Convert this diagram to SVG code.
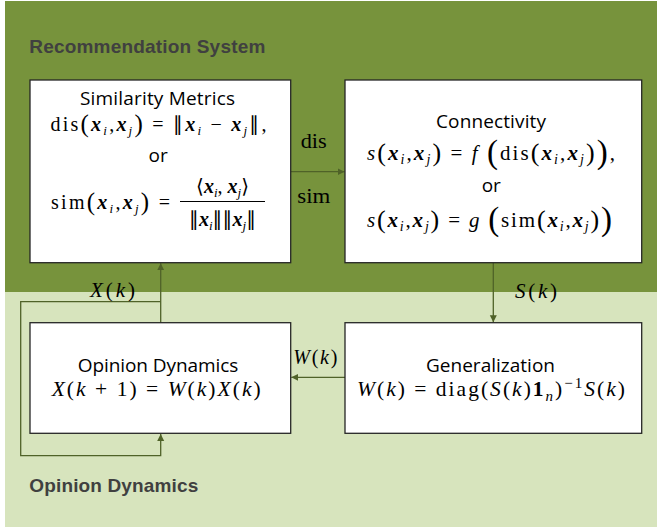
<svg xmlns="http://www.w3.org/2000/svg" width="657" height="527" viewBox="0 0 657 527">
<style>
.bg1{fill:#77933C}
.bg2{fill:#D7E4BD}
.box{fill:#fff;stroke:#262626;stroke-width:1.3}
.lbl{font-family:"Liberation Sans",Arial,sans-serif;font-weight:bold;font-size:19px;fill:#404040}
.t{font-family:"Open Sans","Liberation Sans",sans-serif;font-size:19px;fill:#000}
.m{font-family:"Liberation Serif","DejaVu Serif",serif;fill:#000}
.bv{font-weight:bold;font-style:italic}
.it{font-style:italic}
.nb{font-family:"DejaVu Sans",sans-serif;font-style:normal;font-weight:normal}
.con{fill:none;stroke:#4F6228;stroke-width:1.3}
</style>
<defs>
<marker id="ah" markerUnits="userSpaceOnUse" markerWidth="8" markerHeight="8" refX="7" refY="3.5" orient="auto">
<path d="M0,0 L7,3.5 L0,7 z" fill="#4F6228"/>
</marker>
</defs>
<rect class="bg1" x="5" y="1" width="652" height="291"/>
<rect class="bg2" x="5" y="292" width="652" height="235"/>
<text class="lbl" x="29.3" y="52.7" textLength="236">Recommendation System</text>
<text class="lbl" x="29.3" y="492" textLength="169">Opinion Dynamics</text>

<g id="connectors">
<path class="con" d="M290.7,171.7 H344.5" marker-end="url(#ah)"/>
<path class="con" d="M493.3,262.7 V322.2" marker-end="url(#ah)"/>
<path class="con" d="M345,377.3 H291.3" marker-end="url(#ah)"/>
<path class="con" d="M160.7,322.7 V263.3" marker-end="url(#ah)"/>
<path class="con" d="M160.7,301.7 H20.7 V455.7 H160.7 V434" marker-end="url(#ah)"/>
<text class="m" x="300.7" y="148.3" font-size="20" textLength="26" lengthAdjust="spacingAndGlyphs">dis</text>
<text class="m" x="297.3" y="203.3" font-size="20" textLength="33" lengthAdjust="spacingAndGlyphs">sim</text>
<text class="m" x="515" y="298" font-size="21" textLength="42"><tspan class="it">S</tspan>(<tspan class="it">k</tspan>)</text>
<text class="m" x="293.3" y="364" font-size="20" textLength="44"><tspan class="it">W</tspan>(<tspan class="it">k</tspan>)</text>
<text class="m" x="90" y="296.5" font-size="21" textLength="45"><tspan class="it">X</tspan>(<tspan class="it">k</tspan>)</text>
</g>

<g id="similarity-metrics">
<rect class="box" x="30" y="80" width="260.7" height="182.7"/>
<text class="t" x="80" y="105" textLength="155">Similarity Metrics</text>
<text class="m" x="50.5" y="131" font-size="20" textLength="216">dis<tspan font-size="25" baseline-shift="-1.3">(</tspan><tspan class="bv">x</tspan><tspan class="it" font-size="13" baseline-shift="-4">i</tspan>,<tspan class="bv">x</tspan><tspan class="it" font-size="13" baseline-shift="-4">j</tspan><tspan font-size="25" baseline-shift="-1.3">)</tspan> = <tspan class="nb">∥</tspan><tspan class="bv">x</tspan><tspan class="it" font-size="13" baseline-shift="-4">i</tspan> − <tspan class="bv">x</tspan><tspan class="it" font-size="13" baseline-shift="-4">j</tspan><tspan class="nb">∥</tspan>,</text>
<text class="t" x="148.5" y="162.3">or</text>
<text class="m" x="51" y="209" font-size="20" textLength="119">sim<tspan font-size="25" baseline-shift="-1.3">(</tspan><tspan class="bv">x</tspan><tspan class="it" font-size="13" baseline-shift="-4">i</tspan>,<tspan class="bv">x</tspan><tspan class="it" font-size="13" baseline-shift="-4">j</tspan><tspan font-size="25" baseline-shift="-1.3">)</tspan> =</text>
<text class="m" x="222.5" y="192.5" font-size="20" text-anchor="middle">⟨<tspan class="bv">x</tspan><tspan class="it" font-size="13" baseline-shift="-4">i</tspan>, <tspan class="bv">x</tspan><tspan class="it" font-size="13" baseline-shift="-4">j</tspan>⟩</text>
<line x1="180" y1="201.5" x2="265" y2="201.5" stroke="#000" stroke-width="1"/>
<text class="m" x="222.5" y="225.5" font-size="20" text-anchor="middle"><tspan class="nb">∥</tspan><tspan class="bv">x</tspan><tspan class="it" font-size="13" baseline-shift="-4">i</tspan><tspan class="nb">∥∥</tspan><tspan class="bv">x</tspan><tspan class="it" font-size="13" baseline-shift="-4">j</tspan><tspan class="nb">∥</tspan></text>
</g>

<g id="connectivity">
<rect class="box" x="345" y="80" width="296.7" height="182.7"/>
<text class="t" x="436" y="127.7" textLength="110">Connectivity</text>
<text class="m" x="367" y="160" font-size="21" textLength="248"><tspan class="it">s</tspan><tspan font-size="26" baseline-shift="-1.3">(</tspan><tspan class="bv">x</tspan><tspan class="it" font-size="14" baseline-shift="-4">i</tspan>,<tspan class="bv">x</tspan><tspan class="it" font-size="14" baseline-shift="-4">j</tspan><tspan font-size="26" baseline-shift="-1.3">)</tspan> = <tspan class="it">f</tspan> <tspan font-size="33" baseline-shift="-3">(</tspan>dis<tspan font-size="26" baseline-shift="-1.3">(</tspan><tspan class="bv">x</tspan><tspan class="it" font-size="14" baseline-shift="-4">i</tspan>,<tspan class="bv">x</tspan><tspan class="it" font-size="14" baseline-shift="-4">j</tspan><tspan font-size="26" baseline-shift="-1.3">)</tspan><tspan font-size="33" baseline-shift="-3">)</tspan>,</text>
<text class="t" x="481.7" y="191.7">or</text>
<text class="m" x="367" y="226.7" font-size="21" textLength="245"><tspan class="it">s</tspan><tspan font-size="26" baseline-shift="-1.3">(</tspan><tspan class="bv">x</tspan><tspan class="it" font-size="14" baseline-shift="-4">i</tspan>,<tspan class="bv">x</tspan><tspan class="it" font-size="14" baseline-shift="-4">j</tspan><tspan font-size="26" baseline-shift="-1.3">)</tspan> = <tspan class="it">g</tspan> <tspan font-size="33" baseline-shift="-3">(</tspan>sim<tspan font-size="26" baseline-shift="-1.3">(</tspan><tspan class="bv">x</tspan><tspan class="it" font-size="14" baseline-shift="-4">i</tspan>,<tspan class="bv">x</tspan><tspan class="it" font-size="14" baseline-shift="-4">j</tspan><tspan font-size="26" baseline-shift="-1.3">)</tspan><tspan font-size="33" baseline-shift="-3">)</tspan></text>
</g>

<g id="opinion-dynamics">
<rect class="box" x="30" y="322.7" width="260.7" height="110.6"/>
<text class="t" x="77.7" y="371.5" textLength="160.6">Opinion Dynamics</text>
<text class="m" x="51.7" y="395.5" font-size="21.5" textLength="209"><tspan class="it">X</tspan>(<tspan class="it">k</tspan> + 1) = <tspan class="it">W</tspan>(<tspan class="it">k</tspan>)<tspan class="it">X</tspan>(<tspan class="it">k</tspan>)</text>
</g>

<g id="generalization">
<rect class="box" x="345" y="322.7" width="296.7" height="110.6"/>
<text class="t" x="426" y="371.5" textLength="129">Generalization</text>
<text class="m" x="357" y="395.5" font-size="21.5" textLength="268"><tspan class="it">W</tspan>(<tspan class="it">k</tspan>) = diag(<tspan class="it">S</tspan>(<tspan class="it">k</tspan>)<tspan font-weight="bold">1</tspan><tspan class="it" font-size="15" baseline-shift="-5">n</tspan>)<tspan font-size="15" baseline-shift="8">−1</tspan><tspan class="it">S</tspan>(<tspan class="it">k</tspan>)</text>
</g>
</svg>
